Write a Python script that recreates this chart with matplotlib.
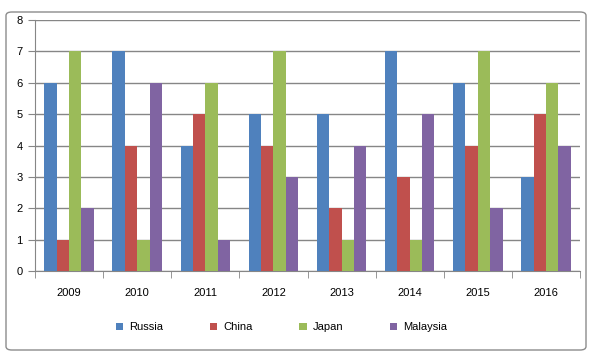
import matplotlib
matplotlib.use("Agg")
import matplotlib.pyplot as plt
from matplotlib.patches import FancyBboxPatch
import numpy as np

years = ["2009", "2010", "2011", "2012", "2013", "2014", "2015", "2016"]
russia = [6, 7, 4, 5, 5, 7, 6, 3]
china = [1, 4, 5, 4, 2, 3, 4, 5]
japan = [7, 1, 6, 7, 1, 1, 7, 6]
malaysia = [2, 6, 1, 3, 4, 5, 2, 4]
series_names = ["Russia", "China", "Japan", "Malaysia"]
colors = ["#4F81BD", "#C0504D", "#9BBB59", "#8064A2"]

plt.rcParams['font.family'] = ['Liberation Sans', 'DejaVu Sans']

fig = plt.figure(figsize=(5.92, 3.56), dpi=100)
border = FancyBboxPatch((6/592, 6/356), 580/592, 338/356,
                        boxstyle="round,pad=0,rounding_size=0.01",
                        transform=fig.transFigure, facecolor="white",
                        edgecolor="#8C8C8C", linewidth=1.0, zorder=-10)
fig.patches.append(border)

ax = fig.add_axes([35/592, 1 - 271/356, (580-35)/592, (271-20)/356])
ax.set_facecolor("none")
ax.set_zorder(5)

x = np.arange(len(years))
bw = 1 / 5.5
data = [russia, china, japan, malaysia]
for i, (vals, name, c) in enumerate(zip(data, series_names, colors)):
    ax.bar(x + (i - 1.5) * bw, vals, width=bw, color=c, label=name, zorder=3)

ax.set_xlim(-0.5, len(years) - 0.5)
ax.set_ylim(0, 8)
ax.set_yticks(range(0, 9))
ax.yaxis.grid(True, color="#868686", linewidth=1.0, zorder=0)
ax.set_axisbelow(True)
for s in ["top", "right"]:
    ax.spines[s].set_visible(False)
ax.spines["left"].set_color("#868686")
ax.spines["bottom"].set_color("#868686")
ax.set_xticks(x)
ax.set_xticklabels(years)
ax.set_xticks(np.arange(-0.5, len(years) + 0.5, 1), minor=True)
ax.tick_params(axis="x", which="major", length=0, pad=12, labelsize=8)
ax.tick_params(axis="x", which="minor", length=5, color="#868686")
ax.tick_params(axis="y", length=5, color="#868686", labelsize=8, pad=4)

leg = ax.legend(loc="upper center", bbox_to_anchor=(0.452, -0.165), ncol=4,
                frameon=False, fontsize=8, handlelength=0.7, handleheight=0.7,
                columnspacing=4.2, handletextpad=0.5)

fig.savefig("out.png", dpi=100)
